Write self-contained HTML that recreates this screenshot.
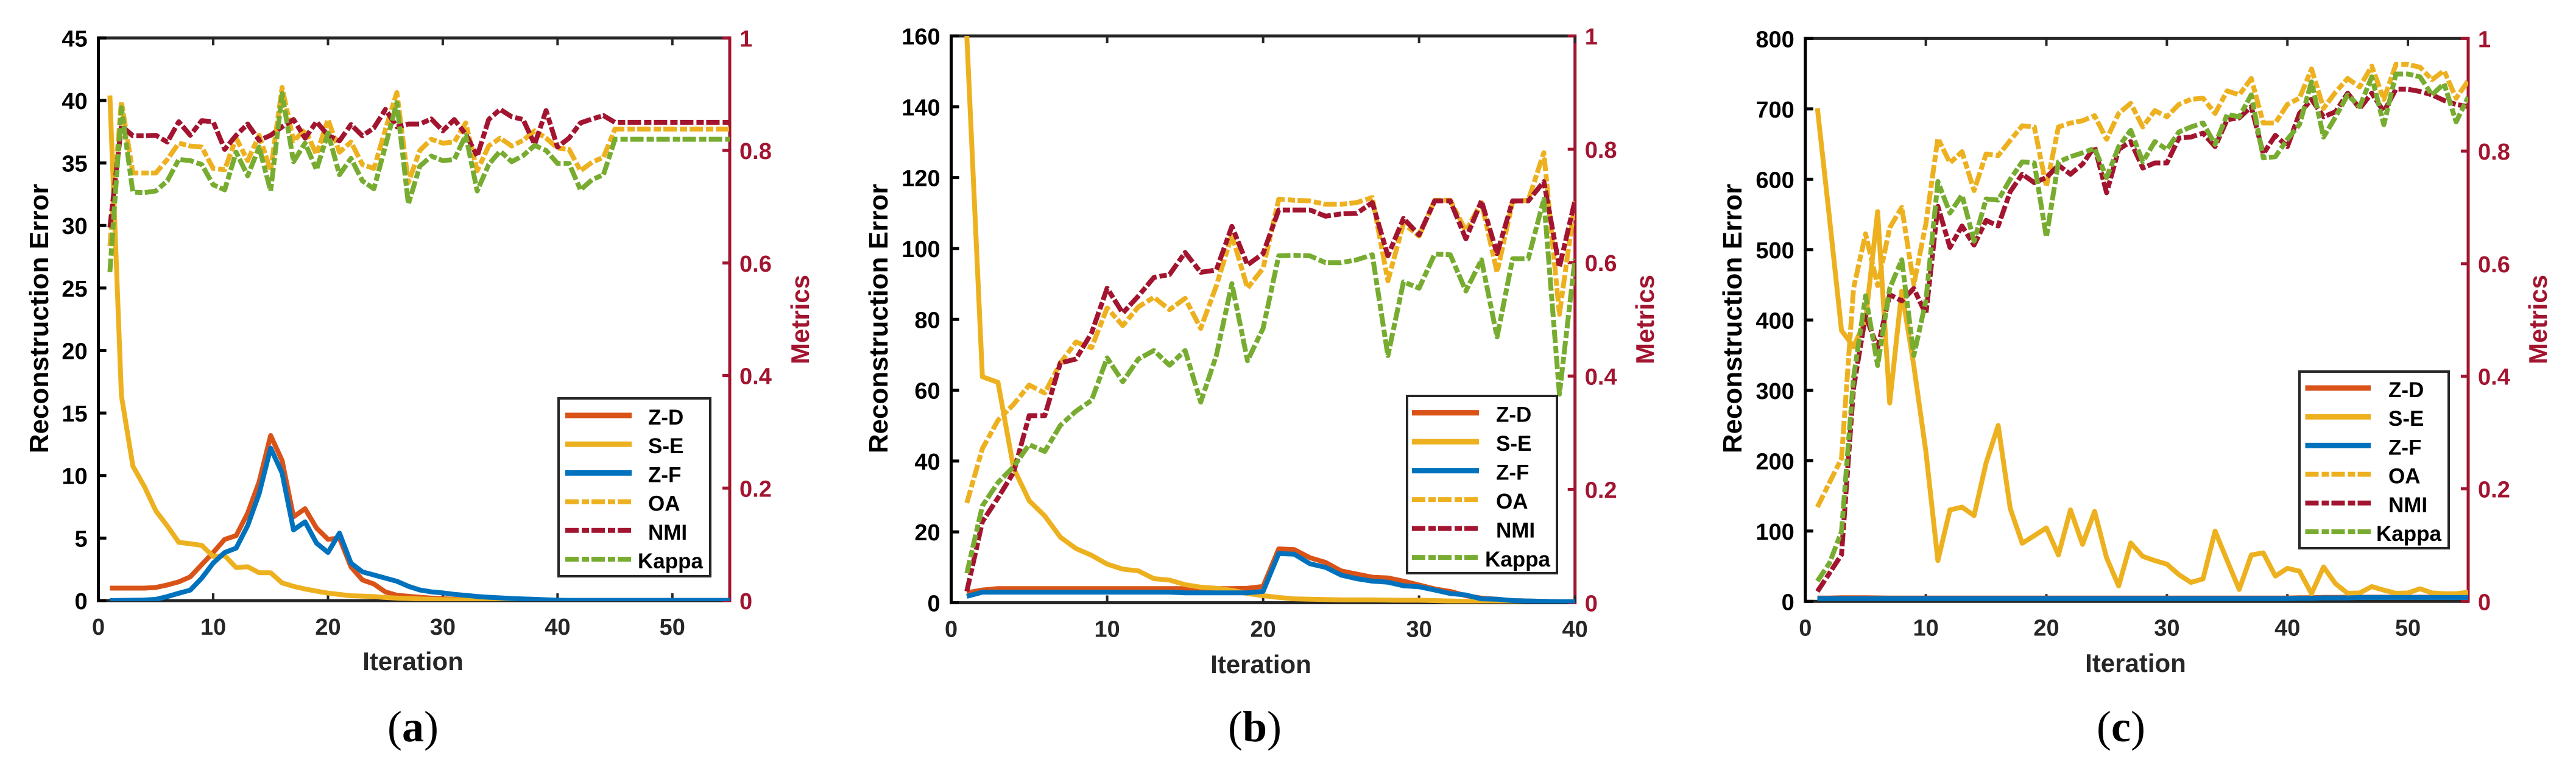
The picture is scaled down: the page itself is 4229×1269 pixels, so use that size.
<!DOCTYPE html>
<html><head><meta charset="utf-8"><title>Reconstruction error and metrics vs iteration</title>
<style>html,body{margin:0;padding:0;background:#fff}svg{display:block}text{font-family:"Liberation Sans",Arial,sans-serif;font-weight:bold}.cap{font-family:"Liberation Serif","Times New Roman",serif}</style></head>
<body>
<svg id="fig" xmlns="http://www.w3.org/2000/svg" width="4229" height="1269" viewBox="0 0 4229 1269"></svg>
<script>
const metricTicks=[0,0.2,0.4,0.6,0.8,1];
const aXTicks=[0,10,20,30,40,50];
const aYTicks=[0,5,10,15,20,25,30,35,40,45];
const bXTicks=[0,10,20,30,40];
const bYTicks=[0,20,40,60,80,100,120,140,160];
const cXTicks=[0,10,20,30,40,50];
const cYTicks=[0,100,200,300,400,500,600,700,800];

const aZD=[1,1,1,1,1.05,1.25,1.5,1.9,2.88,3.85,4.9,5.2,7,9.5,13.2,11.2,6.7,7.35,5.8,4.9,5,2.7,1.65,1.33,.69,.43,.35,.27,.2,.15,.1,.07,.05,.03,.02,.01,.01,.01,.01,.01,.01,.01,.01,.01,.01,.01,.01,.01,.01,.01,.01,.01,.01,.01,.01];
const aSE=[40.4,16.4,10.76,9.13,7.18,5.97,4.66,4.55,4.42,3.53,3.6,2.64,2.71,2.23,2.23,1.42,1.14,.93,.76,.6,.49,.39,.36,.32,.25,.2,.17,.13,.1,.08,.07,.05,.03,.02,0,0,0,0,0,0,0,0,0,0,0,0,0,0,0,0,0,0,0,0,0];
const aZF=[0,.02,.03,.05,.1,.32,.59,.84,1.8,3,3.85,4.2,6,8.55,12.2,10.2,5.65,6.3,4.6,3.85,5.4,3,2.3,2.05,1.8,1.55,1.15,.85,.7,.62,.5,.42,.33,.27,.22,.17,.13,.1,.07,.04,.02,.02,.02,.02,.02,.02,.02,.02,.02,.02,.02,.02,.02,.02,.02];
const aOA=[.63,.887,.76,.76,.76,.784,.813,.808,.806,.768,.766,.822,.782,.827,.764,.912,.817,.837,.793,.855,.797,.815,.775,.768,.837,.903,.743,.8,.82,.813,.815,.849,.764,.808,.822,.808,.818,.835,.822,.804,.802,.764,.779,.788,.838,.838,.838,.838,.838,.838,.838,.838,.838,.838,.838];
const aNMI=[.663,.844,.826,.826,.827,.815,.851,.827,.853,.851,.802,.827,.847,.818,.827,.842,.855,.822,.851,.827,.817,.846,.826,.84,.873,.842,.847,.847,.856,.835,.855,.829,.79,.855,.873,.86,.855,.811,.871,.806,.822,.849,.856,.862,.85,.85,.85,.85,.85,.85,.85,.85,.85,.85,.85];
const aKappa=[.584,.876,.726,.725,.728,.746,.784,.782,.775,.739,.73,.797,.755,.806,.728,.901,.78,.813,.766,.831,.757,.786,.746,.732,.808,.885,.705,.772,.79,.782,.784,.827,.728,.775,.799,.78,.791,.809,.8,.777,.777,.73,.748,.757,.82,.82,.82,.82,.82,.82,.82,.82,.82,.82,.82];

const bZD=[2.8,3.6,4,4,4,4,4,4,4,4,4,4,4,4,4,4,4,4,4.1,4.6,15.2,15,12.7,11.4,9,8.1,7.2,7,6.1,5,3.9,3.2,2,1.3,1,.6,.5,.4,.3,.3];
const bSE=[160,63.8,62.2,38,28.8,24.5,18.5,15.3,13.4,10.9,9.5,9,6.8,6.4,5.1,4.4,4.1,3.5,2.6,2,1.5,1.1,1,.9,.8,.8,.8,.75,.7,.7,.6,.5,.4,.3,.2,.1,0,0,0,0];
const bZF=[1.8,3,3,3,3,3,3,3,3,3,3,3,3,3,2.8,2.8,2.8,2.8,2.8,3.2,13.9,13.7,11,10,7.8,6.8,6.1,5.8,4.8,4.5,3.6,2.6,2.2,1.1,1,.6,.5,.4,.3,.3];
const bOA=[.176,.272,.322,.35,.384,.37,.423,.46,.45,.52,.489,.522,.539,.517,.537,.484,.559,.649,.555,.59,.712,.71,.709,.703,.703,.706,.715,.568,.669,.647,.71,.71,.656,.706,.583,.708,.71,.794,.509,.708];
const bNMI=[.02,.143,.185,.23,.33,.33,.423,.43,.476,.555,.511,.541,.574,.579,.618,.583,.587,.664,.596,.616,.693,.693,.693,.682,.686,.687,.706,.612,.678,.649,.709,.709,.642,.709,.616,.709,.709,.743,.592,.71];
const bKappa=[.052,.171,.212,.24,.279,.267,.313,.338,.357,.432,.39,.43,.445,.419,.445,.354,.436,.563,.427,.484,.612,.613,.612,.6,.6,.605,.614,.436,.566,.555,.615,.614,.55,.605,.469,.607,.607,.712,.368,.607];

const cZD=[4.8,4.8,5.2,5.2,5.2,5,4.8,4.8,4.8,4.8,4.8,4.8,4.8,4.8,4.8,4.8,4.8,4.8,4.8,4.8,4.8,4.8,4.8,4.8,4.8,4.8,4.8,4.8,4.8,4.8,4.8,4.8,4.8,4.8,4.8,4.8,4.8,4.8,4.8,4.8,5.2,5.2,5.8,5.8,5.8,6,6,6,6,6,6,6,6,6,6];
const cSE=[701,545,385,362,400,554,282,441,335,213,58,130,134,122,197,250,132,82.6,93.4,104.5,66,130,81,128,62,22,83,64,58,53,38,27,32,100,58,17,66,69,36,47,43,11,49,25,11.5,12,21,16,11.5,12,18,12,11,11,13];
const cZF=[4,4,4,4,4,4,4,4,4,4,4,4,4,4,4,4,4,4,4,4,4,4,4,4,4,4,4,4,4,4,4,4,4,4,4,4,4,4,4,4,4.5,4.5,5,5,5,5.5,5.5,5.5,5.5,5.5,5.5,5.5,5.5,5.5,5.5];
const cOA=[.1675,.211,.254,.556,.653,.561,.664,.7,.563,.671,.823,.779,.799,.73,.795,.792,.819,.845,.843,.737,.843,.85,.854,.863,.821,.867,.885,.843,.872,.861,.883,.892,.894,.867,.907,.9,.929,.85,.85,.883,.894,.946,.876,.905,.929,.914,.951,.892,.954,.954,.949,.927,.943,.894,.925];
const cNMI=[.0176,.05,.083,.379,.508,.45,.545,.534,.556,.51,.702,.629,.667,.633,.677,.667,.728,.759,.744,.753,.775,.759,.777,.808,.726,.803,.817,.77,.779,.779,.823,.825,.832,.808,.856,.859,.879,.795,.828,.808,.867,.892,.861,.87,.903,.876,.903,.87,.91,.91,.906,.9,.89,.883,.879];
const cKappa=[.036,.068,.124,.397,.543,.419,.556,.607,.437,.534,.746,.69,.722,.64,.715,.713,.75,.781,.779,.647,.781,.79,.797,.805,.753,.808,.837,.781,.817,.803,.834,.843,.85,.812,.865,.861,.9,.788,.79,.821,.847,.923,.825,.861,.9,.879,.932,.847,.937,.937,.932,.9,.92,.852,.896];

const legendNames=['Z-D','S-E','Z-F','OA','NMI','Kappa'];
const colors=['#D95319','#EDB120','#0072BD','#EDB120','#A2142F','#77AC30'];
const NS='http://www.w3.org/2000/svg';
const fig=document.getElementById('fig');
const DASH='22 5 12 4';
const CRIM='#A2142F',DARK='#262626';

function mk(tag,attrs,parent){const e=document.createElementNS(NS,tag);for(const k in attrs)e.setAttribute(k,attrs[k]);(parent||fig).appendChild(e);return e;}
function label(str,x,y,size,fill,anchor,parent,rot){
  const t=mk('text',{x:x,y:y,'font-size':size,fill:fill,'text-anchor':anchor||'start'},parent);
  if(rot)t.setAttribute('transform','rotate(-90 '+x+' '+y+')');
  t.textContent=str;return t;
}
function drawPanel(id,g,xMax,xTicks,yMax,yTicks,left,right,ttl){
  const root=mk('g',{},fig);
  
  
  const X=v=>g.l+(g.r-g.l)*v/xMax;
  const YL=v=>g.b-(g.b-g.t)*v/yMax;
  const YR=v=>g.b-(g.b-g.t)*v;
  // axes
  const axes=mk('g',{},root);
  
  
  mk('line',{x1:g.l,x2:g.r,y1:g.t,y2:g.t,stroke:DARK,'stroke-width':5},axes);
  mk('line',{x1:g.l,x2:g.r,y1:g.b,y2:g.b,stroke:DARK,'stroke-width':5},axes);
  mk('line',{x1:g.l,x2:g.l,y1:g.t-2.5,y2:g.b+2.5,stroke:'#000','stroke-width':5},axes);
  mk('line',{x1:g.r,x2:g.r,y1:g.t-2.5,y2:g.b+2.5,stroke:CRIM,'stroke-width':5},axes);
  xTicks.forEach(v=>{
    if(v>0){
      mk('line',{x1:X(v),x2:X(v),y1:g.b,y2:g.b-12,stroke:DARK,'stroke-width':4},axes);
      mk('line',{x1:X(v),x2:X(v),y1:g.t,y2:g.t+12,stroke:DARK,'stroke-width':4},axes);
    }
    const t=label(String(v),X(v),g.b+56,38,DARK,'middle',axes);
    
    
  });
  yTicks.forEach(v=>{
    mk('line',{x1:g.l,x2:g.l+13,y1:YL(v),y2:YL(v),stroke:'#000','stroke-width':5},axes);
    const t=label(String(v),g.l-18,YL(v)+14,38,'#000','end',axes);
    
    
  });
  metricTicks.forEach(v=>{
    mk('line',{x1:g.r-12,x2:g.r,y1:YR(v),y2:YR(v),stroke:CRIM,'stroke-width':5},axes);
    const t=label(String(v),g.r+16,YR(v)+14,38,CRIM,'start',axes);
    
    
  });
  // clip + series
  const cp=mk('clipPath',{id:'clip-'+id},root);
  mk('rect',{x:g.l,y:g.t,width:g.r-g.l,height:g.b-g.t+1},cp);
  const plot=mk('g',{'clip-path':'url(#clip-'+id+')'},root);
  
  
  const all=left.concat(right);
  all.forEach((arr,s)=>{
    const sy=s<3?YL:YR;
    const pts=arr.map((v,i)=>X(i+1).toFixed(1)+','+sy(v).toFixed(1)).join(' ');
    const p=mk('polyline',{points:pts,fill:'none',stroke:colors[s],'stroke-width':8,'stroke-linejoin':'round'},plot);
    if(s>=3)p.setAttribute('stroke-dasharray',DASH);
    
    
  });
  // titles
  const xt=label('Iteration',g.xtx,g.xty,42,DARK,'middle',root);
  
  
  const yt=label('Reconstruction Error',g.ylx,523,44,'#000','middle',root,true);
  
  
  const mt=label('Metrics',g.mlx,524.5,42,CRIM,'middle',root,true);
  
  
  // legend
  const L=g.leg;
  const lg=mk('g',{},root);
  
  
  mk('rect',{x:L.x,y:L.y,width:L.w,height:L.h,fill:'#fff',stroke:DARK,'stroke-width':4},lg);
  legendNames.forEach((n,i)=>{
    const y=L.y0+L.dy*i;
    const ln=mk('line',{x1:L.lx,x2:L.lx+L.ll,y1:y,y2:y,stroke:colors[i],'stroke-width':i<3?9:8},lg);
    if(i>=3)ln.setAttribute('stroke-dasharray',DASH);
    
    
    const tx=n==='Kappa'?L.kx:L.tx;
    const t=label(n,tx,y+15,35,'#000','start',lg);
    
    
  });
  // caption
  const c=mk('text',{x:g.capx,y:1217,'font-size':72,'text-anchor':'middle',fill:'#000'},root);
  c.setAttribute('class','cap');
  
  
  const a=mk('tspan',{'font-weight':'normal'},c);a.textContent='(';
  const b=mk('tspan',{'font-weight':'bold'},c);b.textContent=ttl;
  const d=mk('tspan',{'font-weight':'normal'},c);d.textContent=')';
}
drawPanel('a',{l:161.6,r:1198,t:62.3,b:986,xtx:678,xty:1100,ylx:79,mlx:1328,capx:678,
  leg:{x:917,y:654,w:249,h:292,y0:682,dy:47.2,lx:928,ll:109,tx:1064,kx:1047}},55,aXTicks,45,aYTicks,[aZD,aSE,aZF],[aOA,aNMI,aKappa],'a');
drawPanel('b',{l:1561.6,r:2585.7,t:59,b:989.5,xtx:2070,xty:1105,ylx:1457,mlx:2715,capx:2060,
  leg:{x:2310,y:650,w:246,h:291,y0:677.6,dy:47.5,lx:2318,ll:110,tx:2456,kx:2438}},40,bXTicks,160,bYTicks,[bZD,bSE,bZF],[bOA,bNMI,bKappa],'b');
drawPanel('c',{l:2963.8,r:4052,t:63.3,b:987.3,xtx:3506,xty:1103,ylx:2859,mlx:4181,capx:3482,
  leg:{x:3775,y:610,w:245,h:290,y0:637,dy:47.2,lx:3784.5,ll:107.5,tx:3921,kx:3901}},55,cXTicks,800,cYTicks,[cZD,cSE,cZF],[cOA,cNMI,cKappa],'c');
</script>
</body></html>
